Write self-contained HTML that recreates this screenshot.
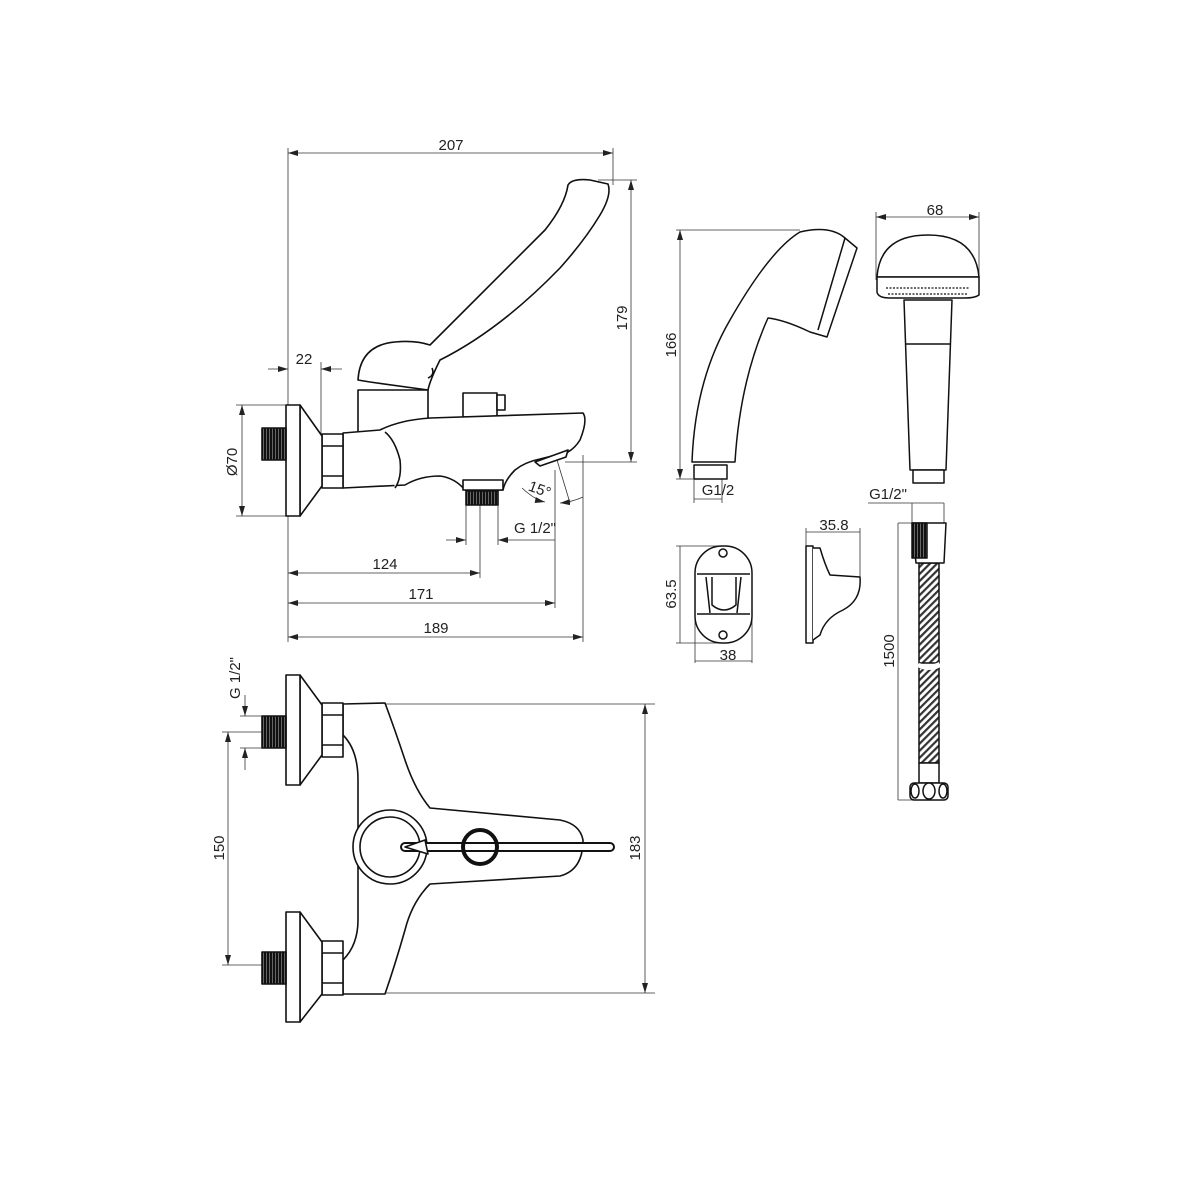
<!DOCTYPE html>
<html><head><meta charset="utf-8"><style>
html,body{margin:0;padding:0;background:#fff}
svg{display:block}
text{font-family:"Liberation Sans",sans-serif;font-size:15px;fill:#222}
</style></head><body>
<svg width="1200" height="1200" viewBox="0 0 1200 1200" xmlns="http://www.w3.org/2000/svg">
<defs>
<marker id="a" viewBox="0 0 10 6" refX="10" refY="3" markerWidth="10" markerHeight="6" orient="auto-start-reverse" markerUnits="userSpaceOnUse"><path d="M0,0 L10,3 L0,6 z" fill="#222"/></marker>
<pattern id="h" width="5" height="5" patternUnits="userSpaceOnUse" patternTransform="rotate(45)"><rect width="5" height="5" fill="#fff"/><rect width="2.2" height="5" fill="#333"/></pattern>
<pattern id="tv" width="3" height="3" patternUnits="userSpaceOnUse"><rect width="3" height="3" fill="#666"/><rect width="2" height="3" fill="#111"/></pattern>
</defs>
<g stroke="#333" stroke-width="0.8" fill="none">
<line x1="288" y1="148" x2="288" y2="642"/>
<line x1="613" y1="148" x2="613" y2="185"/>
<line x1="288" y1="153" x2="613" y2="153" marker-start="url(#a)" marker-end="url(#a)"/>
<line x1="598" y1="180" x2="637" y2="180"/><line x1="565" y1="462" x2="637" y2="462"/>
<line x1="631" y1="180" x2="631" y2="462" marker-start="url(#a)" marker-end="url(#a)"/>
<line x1="321" y1="362" x2="321" y2="434"/>
<line x1="268" y1="369" x2="288" y2="369" marker-end="url(#a)"/><line x1="342" y1="369" x2="321" y2="369" marker-end="url(#a)"/>
<line x1="236" y1="405" x2="288" y2="405"/><line x1="236" y1="516" x2="288" y2="516"/>
<line x1="242" y1="405" x2="242" y2="516" marker-start="url(#a)" marker-end="url(#a)"/>
<line x1="466" y1="505" x2="466" y2="545"/><line x1="498" y1="505" x2="498" y2="545"/>
<line x1="446" y1="540" x2="466" y2="540" marker-end="url(#a)"/><line x1="555" y1="540" x2="498" y2="540" marker-end="url(#a)"/>
<line x1="480" y1="505" x2="480" y2="578"/>
<line x1="288" y1="573" x2="480" y2="573" marker-start="url(#a)" marker-end="url(#a)"/>
<line x1="555" y1="470" x2="555" y2="608"/>
<line x1="288" y1="603" x2="555" y2="603" marker-start="url(#a)" marker-end="url(#a)"/>
<line x1="583" y1="455" x2="583" y2="642"/>
<line x1="288" y1="637" x2="583" y2="637" marker-start="url(#a)" marker-end="url(#a)"/>
<path d="M522,488 Q535,500 545,502" marker-end="url(#a)"/>
<path d="M560,503 Q572,502 583,497" marker-start="url(#a)"/>
<line x1="557" y1="460" x2="570" y2="503"/>
</g>
<g stroke="#111" stroke-width="1.6" fill="#fff" stroke-linejoin="round">
<path d="M358,380 Q360,345 395,342 Q415,340 430,345 Q475,300 545,230 Q565,205 568,185 Q572,178 590,180 L608,184 Q612,195 600,215 Q585,240 560,268 Q500,330 440,360 Q430,380 428,390 L370,382 Z"/>
<path d="M428,378 Q435,375 432,368"/>
<path d="M358,390 L428,390 L428,430 L358,433 Z"/>
<rect x="463" y="393" width="34" height="24"/><rect x="497" y="395" width="8" height="15"/>
<path d="M343,433 L380,430 Q400,420 430,418 L583,413 Q588,420 580,440 Q575,448 568,452 L540,459 Q525,462 515,470 Q505,480 503,490 L465,490 Q455,478 440,476 Q420,476 405,485 L343,488 Z"/>
<path d="M385,432 Q395,440 400,460 Q402,478 395,488"/>
<path d="M535,462 L568,450 L566,457 L540,466 Z"/>
<rect x="463" y="480" width="40" height="10"/>
<rect x="466" y="491" width="32" height="14" fill="url(#tv)"/>
<rect x="322" y="434" width="21" height="54"/><line x1="322" y1="446" x2="343" y2="446"/><line x1="322" y1="476" x2="343" y2="476"/>
<path d="M300,405 L322,436 L322,486 L300,516 Z"/>
<rect x="286" y="405" width="14" height="111"/>
<rect x="262" y="428" width="24" height="32" fill="url(#tv)"/>
</g>
<g stroke="#333" stroke-width="0.8" fill="none">
<line x1="385" y1="704" x2="655" y2="704"/><line x1="385" y1="993" x2="655" y2="993"/>
<line x1="645" y1="704" x2="645" y2="993" marker-start="url(#a)" marker-end="url(#a)"/>
<line x1="222" y1="732" x2="262" y2="732"/><line x1="222" y1="965" x2="262" y2="965"/>
<line x1="228" y1="732" x2="228" y2="965" marker-start="url(#a)" marker-end="url(#a)"/>
<line x1="240" y1="716" x2="262" y2="716"/><line x1="240" y1="748" x2="262" y2="748"/>
<line x1="245" y1="695" x2="245" y2="716" marker-end="url(#a)"/><line x1="245" y1="770" x2="245" y2="748" marker-end="url(#a)"/>
</g>
<g stroke="#111" stroke-width="1.6" fill="#fff" stroke-linejoin="round">
<path d="M343,704 L385,703 Q395,730 405,760 Q415,790 430,808 L560,820 Q580,824 583,840 Q583,870 560,876 L430,884 Q412,902 405,930 Q395,965 385,994 L343,994 L343,960 Q358,945 358,920 L358,780 Q358,750 343,735 Z"/>
<circle cx="390" cy="847" r="37"/><circle cx="390" cy="847" r="30"/>
<path d="M405,847 L610,847" stroke-width="10" stroke-linecap="round"/>
<path d="M405,847 L610,847" stroke="#fff" stroke-width="6" stroke-linecap="round"/>
<path d="M405,847 L425,840 L428,854 Z"/>
<circle cx="480" cy="847" r="17" fill="none" stroke-width="4"/>
<rect x="322" y="703" width="21" height="54"/><line x1="322" y1="715" x2="343" y2="715"/><line x1="322" y1="745" x2="343" y2="745"/>
<path d="M300,675 L322,705 L322,755 L300,785 Z"/><rect x="286" y="675" width="14" height="110"/>
<rect x="262" y="716" width="24" height="32" fill="url(#tv)"/>
<rect x="322" y="941" width="21" height="54"/><line x1="322" y1="953" x2="343" y2="953"/><line x1="322" y1="983" x2="343" y2="983"/>
<path d="M300,912 L322,942 L322,994 L300,1022 Z"/><rect x="286" y="912" width="14" height="110"/>
<rect x="262" y="952" width="24" height="32" fill="url(#tv)"/>
</g>
<g stroke="#333" stroke-width="0.8" fill="none">
<line x1="676" y1="230" x2="800" y2="230"/><line x1="676" y1="479" x2="693" y2="479"/>
<line x1="680" y1="230" x2="680" y2="479" marker-start="url(#a)" marker-end="url(#a)"/>
<line x1="694" y1="479" x2="694" y2="503"/><line x1="722" y1="479" x2="722" y2="503"/>
<line x1="694" y1="499" x2="722" y2="499"/>
<line x1="876" y1="212" x2="876" y2="280"/><line x1="979" y1="212" x2="979" y2="280"/>
<line x1="876" y1="217" x2="979" y2="217" marker-start="url(#a)" marker-end="url(#a)"/>
<line x1="912" y1="503" x2="912" y2="523"/><line x1="944" y1="503" x2="944" y2="523"/>
<line x1="868" y1="503" x2="944" y2="503"/>
<line x1="676" y1="546" x2="720" y2="546"/><line x1="676" y1="643" x2="720" y2="643"/>
<line x1="680" y1="546" x2="680" y2="643"/>
<line x1="695" y1="600" x2="695" y2="663"/><line x1="752" y1="600" x2="752" y2="663"/>
<line x1="695" y1="661" x2="752" y2="661"/>
<line x1="806" y1="528" x2="806" y2="546"/><line x1="860" y1="528" x2="860" y2="580"/>
<line x1="806" y1="532" x2="860" y2="532"/>
<line x1="898" y1="523" x2="916" y2="523"/><line x1="898" y1="800" x2="916" y2="800"/>
<line x1="898" y1="523" x2="898" y2="800"/>
</g>
<g stroke="#111" stroke-width="1.5" fill="#fff" stroke-linejoin="round">
<path d="M692,462 Q695,380 730,320 Q770,250 800,232 Q830,225 845,238 L857,248 L827,337 L810,332 Q785,320 768,318 Q740,380 735,462 Z"/>
<path d="M845,238 L818,330"/>
<rect x="694" y="465" width="33" height="14"/>
<path d="M877,277 Q880,235 928,235 Q975,235 979,277 Z"/>
<path d="M877,277 L979,277 L979,295 Q975,298 965,298 L890,298 Q878,298 877,292 Z"/>
<g stroke-width="1.2" stroke-dasharray="2 1.5"><line x1="886" y1="288" x2="970" y2="288"/><line x1="888" y1="294" x2="968" y2="294"/></g>
<path d="M904,300 L952,300 L946,470 L910,470 Z"/><line x1="906" y1="344" x2="950" y2="344"/>
<rect x="913" y="470" width="31" height="13"/>
<rect x="695" y="546" width="57" height="97" rx="27"/>
<line x1="697" y1="574" x2="750" y2="574"/><line x1="697" y1="614" x2="750" y2="614"/>
<path d="M706,577 L710,613 M741,577 L737,613 M712,577 L712,605 Q724,615 736,605 L736,577"/>
<circle cx="723" cy="553" r="4"/><circle cx="723" cy="635" r="4"/>
<rect x="806" y="546" width="7" height="97"/>
<path d="M813,548 L820,548 Q825,565 830,575 L860,577 Q862,600 843,610 Q825,618 820,635 L813,640"/>
<rect x="919" y="563" width="20" height="100" fill="url(#h)"/>
<rect x="919" y="668" width="20" height="95" fill="url(#h)"/>
<path d="M919,663 Q929,667 939,662 L939,668 Q929,672 919,668 Z" stroke="none" fill="#fff"/>
<path d="M912,523 L946,523 L944,563 L916,563 Z"/>
<rect x="912" y="523" width="15" height="35" fill="url(#tv)"/>
<rect x="919" y="763" width="20" height="20"/>
<rect x="910" y="783" width="38" height="17" rx="4"/>
<ellipse cx="929" cy="791" rx="6" ry="8"/><ellipse cx="915" cy="791" rx="4" ry="7"/><ellipse cx="943" cy="791" rx="4" ry="7"/>
</g>
<text x="451" y="150" text-anchor="middle">207</text>
<text x="304" y="364" text-anchor="middle">22</text>
<text x="385" y="569" text-anchor="middle">124</text>
<text x="421" y="599" text-anchor="middle">171</text>
<text x="436" y="633" text-anchor="middle">189</text>
<text x="535" y="533" text-anchor="middle">G 1/2"</text>
<text x="538" y="494" text-anchor="middle" transform="rotate(20 538 494)">15°</text>
<text x="0" y="0" text-anchor="middle" transform="translate(627,318) rotate(-90)">179</text>
<text x="0" y="0" text-anchor="middle" transform="translate(237,462) rotate(-90)">Ø70</text>
<text x="0" y="0" text-anchor="middle" transform="translate(240,678) rotate(-90)">G 1/2"</text>
<text x="0" y="0" text-anchor="middle" transform="translate(224,848) rotate(-90)">150</text>
<text x="0" y="0" text-anchor="middle" transform="translate(640,848) rotate(-90)">183</text>
<text x="0" y="0" text-anchor="middle" transform="translate(676,345) rotate(-90)">166</text>
<text x="0" y="0" text-anchor="middle" transform="translate(676,594) rotate(-90)">63.5</text>
<text x="0" y="0" text-anchor="middle" transform="translate(894,651) rotate(-90)">1500</text>
<text x="718" y="495" text-anchor="middle">G1/2</text>
<text x="935" y="215" text-anchor="middle">68</text>
<text x="888" y="499" text-anchor="middle">G1/2"</text>
<text x="728" y="660" text-anchor="middle">38</text>
<text x="834" y="530" text-anchor="middle">35.8</text>
</svg>
</body></html>
